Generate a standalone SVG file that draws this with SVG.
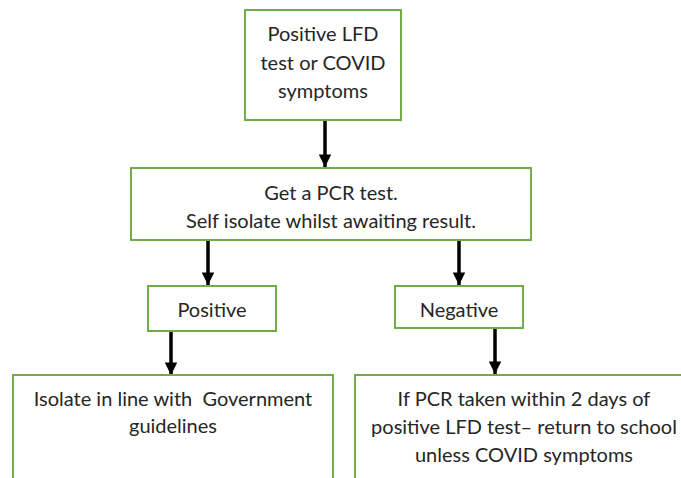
<svg xmlns="http://www.w3.org/2000/svg" width="681" height="478" viewBox="0 0 681 478">
<style>
.box{fill:#ffffff;stroke:#70AD47;stroke-width:2}
.t{font-family:Lato,"Liberation Sans",sans-serif;font-size:20px;fill:#262626;text-anchor:middle}
.c{stroke:#000;stroke-width:3.5;fill:none}
</style>
<defs>
<marker id="ah" viewBox="0 0 10 10" refX="10" refY="5" markerWidth="3.6" markerHeight="3.6" orient="auto" markerUnits="strokeWidth">
<path d="M0,0 L10,5 L0,10 Z" fill="#000"/>
</marker>
</defs>
<rect width="681" height="478" fill="#ffffff"/>
<g id="connectors">
<line class="c" x1="325" y1="121" x2="325" y2="167" marker-end="url(#ah)"/>
<line class="c" x1="208" y1="241" x2="208" y2="285" marker-end="url(#ah)"/>
<line class="c" x1="459" y1="241" x2="459" y2="285" marker-end="url(#ah)"/>
<line class="c" x1="171" y1="331" x2="171" y2="375" marker-end="url(#ah)"/>
<line class="c" x1="495" y1="328" x2="495" y2="374" marker-end="url(#ah)"/>
</g>
<g id="start">
<rect class="box" x="245" y="10" width="156" height="110"/>
<text class="t" x="323" y="41">Positive LFD</text>
<text class="t" x="323" y="70">test or COVID</text>
<text class="t" x="323" y="98">symptoms</text>
</g>
<g id="pcr">
<rect class="box" x="131" y="168" width="400" height="72"/>
<text class="t" x="331" y="200">Get a PCR test.</text>
<text class="t" x="331" y="228">Self isolate whilst awaiting result.</text>
</g>
<g id="positive">
<rect class="box" x="148" y="286" width="128" height="45"/>
<text class="t" x="212" y="317">Positive</text>
</g>
<g id="negative">
<rect class="box" x="395" y="286" width="128" height="42"/>
<text class="t" x="459" y="317">Negative</text>
</g>
<g id="isolate">
<rect class="box" x="13" y="375" width="320" height="120"/>
<text class="t" x="173" y="406" xml:space="preserve">Isolate in line with  Government</text>
<text class="t" x="173" y="433">guidelines</text>
</g>
<g id="return">
<rect class="box" x="355" y="375" width="340" height="120"/>
<text class="t" x="524" y="406">If PCR taken within 2 days of</text>
<text class="t" x="524" y="434">positive LFD test– return to school</text>
<text class="t" x="524" y="462">unless COVID symptoms</text>
</g>
</svg>
